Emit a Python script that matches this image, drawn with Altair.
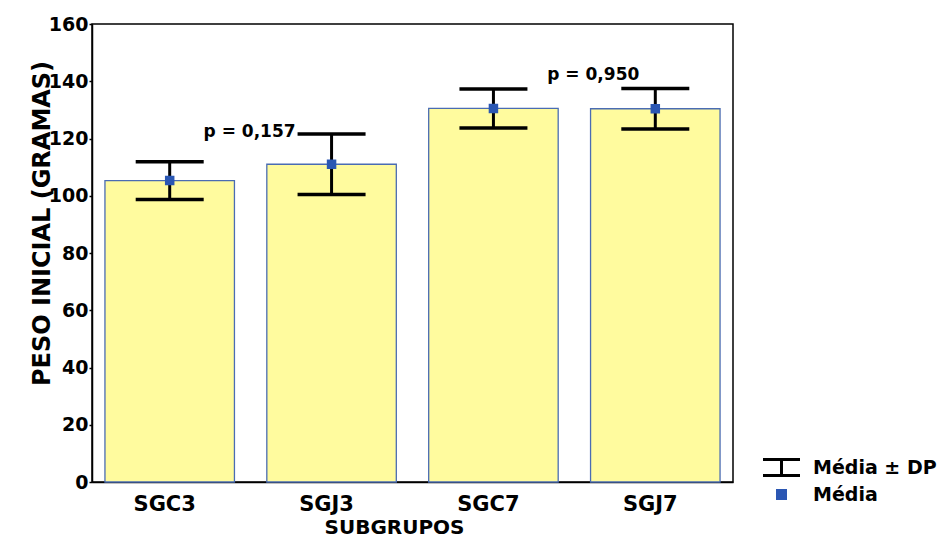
import altair as alt
import pandas as pd

# Initial body weight by subgroup: mean and standard deviation (grams)
subgroups = ["SGC3", "SGJ3", "SGC7", "SGJ7"]
means = [105.3, 111.0, 130.5, 130.4]
sds = [6.6, 10.6, 6.8, 7.1]

# p-value annotations placed between the compared subgroups
p_labels = ["p = 0,157", "p = 0,950"]
p_anchor = ["SGJ3", "SGJ7"]
p_level = [120.6, 140.3]

legend_items = ["Média ± DP", "Média"]

df = pd.DataFrame({"grupo": subgroups, "media": means, "dp": sds})
df["lo"] = df["media"] - df["dp"]
df["hi"] = df["media"] + df["dp"]
df["item"] = "Média"

pdf = pd.DataFrame({"grupo": p_anchor, "y": p_level, "txt": p_labels})

FONT = "DejaVu Sans"
BAR_FILL = "#fffb9e"
BAR_EDGE = "#4a6cb3"
MEAN_BLUE = "#2b57b3"

x_enc = alt.X(
    "grupo:N",
    sort=subgroups,
    scale=alt.Scale(paddingInner=0.2, paddingOuter=0.08),
    axis=alt.Axis(
        title="SUBGRUPOS",
        labelAngle=0,
        ticks=False,
        labelPadding=11,
        labelOffset=-5,
        labelFontSize=21,
        titleFontSize=20,
        titlePadding=3,
        titleX=302,
        titleAnchor="start",
        titleAlign="center",
    ),
)

y_scale = alt.Scale(domain=[0, 160], nice=False, zero=True)
y_axis = alt.Axis(
    title="PESO INICIAL (GRAMAS)",
    values=[0, 20, 40, 60, 80, 100, 120, 140, 160],
    grid=False,
    tickSize=3,
    labelPadding=1,
    labelFontSize=19,
    titleFontSize=24,
    titleAngle=270,
    titleAlign="center",
    titleBaseline="alphabetic",
    titleX=-43,
    titleY=199,
)

base = alt.Chart(df)

bars = base.mark_bar(fill=BAR_FILL, stroke=BAR_EDGE, strokeWidth=1.3).encode(
    x=x_enc,
    y=alt.Y("media:Q", scale=y_scale, axis=y_axis),
)

stems = base.mark_rule(color="black", strokeWidth=3).encode(
    x=alt.X("grupo:N", sort=subgroups),
    y="lo:Q",
    y2="hi:Q",
)

cap_lo = base.mark_tick(color="black", size=68, thickness=3.5, opacity=1).encode(
    x=alt.X("grupo:N", sort=subgroups), y="lo:Q"
)
cap_hi = base.mark_tick(color="black", size=68, thickness=3.5, opacity=1).encode(
    x=alt.X("grupo:N", sort=subgroups), y="hi:Q"
)

# Legend symbols: an error-bar glyph and a small square for the mean
errbar_path = "M-1.85,-0.8H1.85M0,-0.8V0.8M-1.85,0.8H1.85"
square_path = "M-0.4,-0.4H0.4V0.4H-0.4Z"

leg_scale_color = alt.Scale(domain=legend_items, range=["black", MEAN_BLUE])
leg_scale_shape = alt.Scale(domain=legend_items, range=[errbar_path, square_path])

legend = alt.Legend(
    title=None,
    orient="none",
    legendX=678,
    legendY=432,
    labelFont=FONT,
    labelFontSize=19,
    labelFontWeight="bold",
    labelColor="black",
    symbolSize=400,
    symbolStrokeWidth=3,
    labelOffset=20,
    rowPadding=1,
)

mean_pts = base.mark_point(filled=True, size=400, strokeWidth=1.5, opacity=1).encode(
    x=alt.X("grupo:N", sort=subgroups),
    y="media:Q",
    color=alt.Color("item:N", scale=leg_scale_color, legend=legend),
    stroke=alt.Stroke("item:N", scale=leg_scale_color, legend=legend),
    shape=alt.Shape("item:N", scale=leg_scale_shape, legend=legend),
)

text_style = dict(
    font=FONT, fontSize=17, fontWeight="bold", color="black",
    baseline="alphabetic", align="center",
)

ptext1 = alt.Chart(pdf[pdf["grupo"] == "SGJ3"]).mark_text(dx=-82, **text_style).encode(
    x=alt.X("grupo:N", sort=subgroups), y="y:Q", text="txt:N"
)
ptext2 = alt.Chart(pdf[pdf["grupo"] == "SGJ7"]).mark_text(dx=-62, **text_style).encode(
    x=alt.X("grupo:N", sort=subgroups), y="y:Q", text="txt:N"
)

chart = (
    alt.layer(bars, stems, cap_lo, cap_hi, mean_pts, ptext1, ptext2)
    .properties(
        width=641,
        height=458,
        autosize=alt.AutoSizeParams(type="none"),
        padding={"left": 92, "top": 24, "right": 209, "bottom": 58},
        background="white",
    )
    .configure_view(stroke="black", strokeWidth=1.5)
    .configure_axis(
        labelFont=FONT,
        titleFont=FONT,
        labelFontWeight="bold",
        titleFontWeight="bold",
        labelColor="black",
        titleColor="black",
        domainColor="black",
        domainWidth=1.5,
        tickColor="black",
        tickWidth=1.5,
    )
)

chart.save("out.html", embed_options={"renderer": "svg", "actions": False})
